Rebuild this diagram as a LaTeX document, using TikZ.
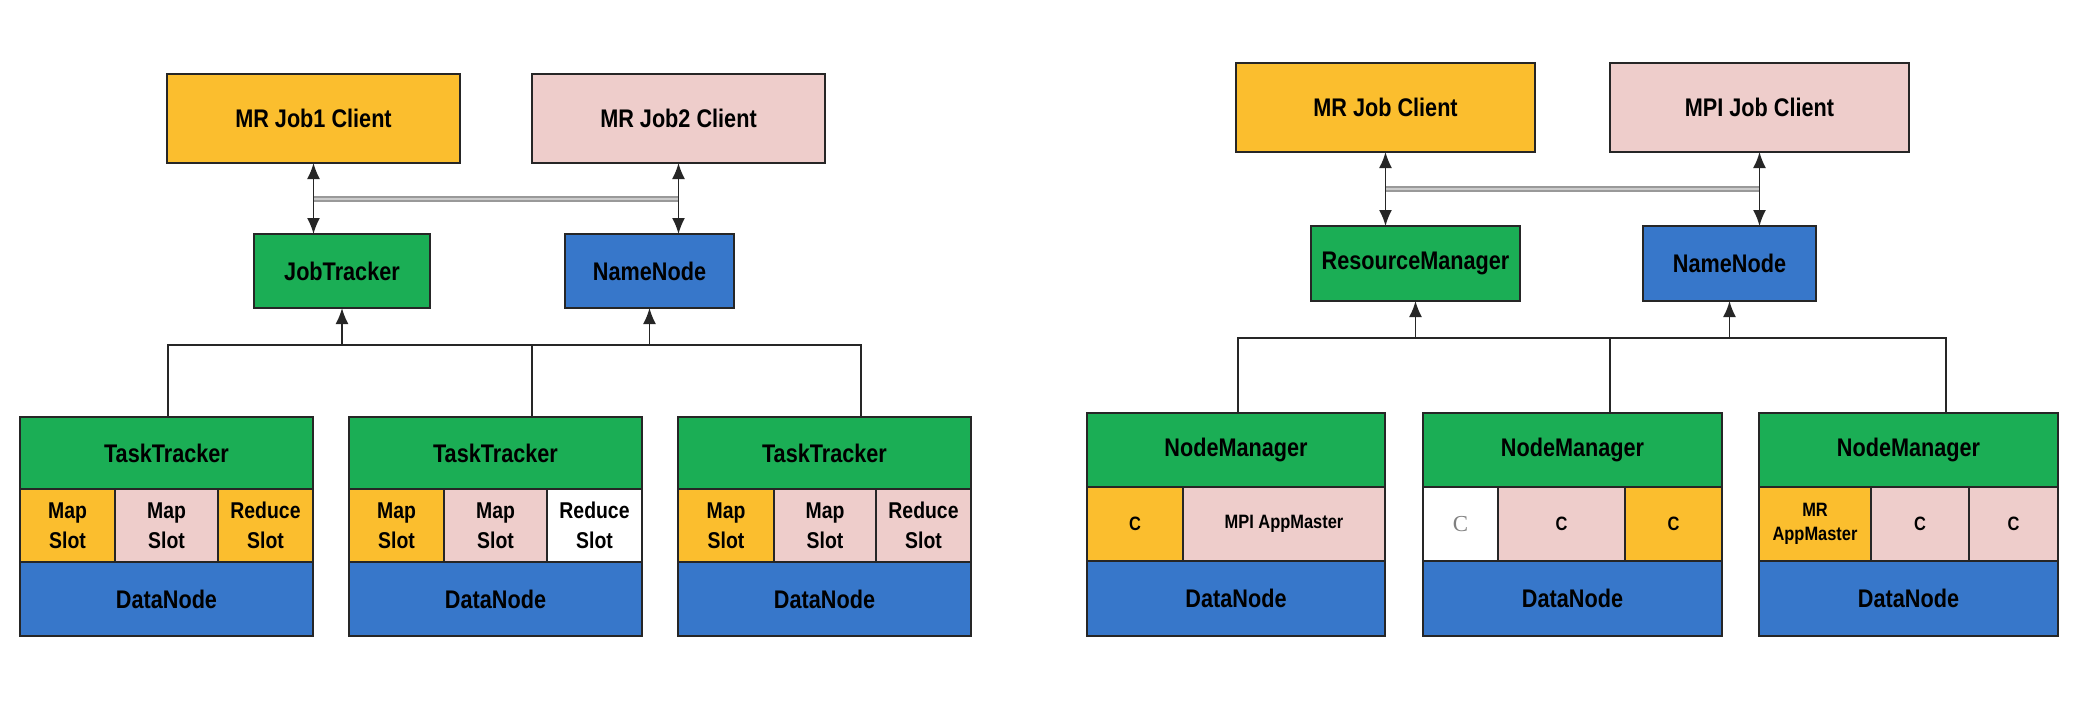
\documentclass[tikz,border=0pt]{standalone}
\usepackage{fontspec}
\setmainfont{Liberation Sans}[FakeStretch=0.85]
\newfontfamily\serifc{Liberation Serif}
\usetikzlibrary{arrows.meta}
\definecolor{cyel}{HTML}{FBBE2E}
\definecolor{cpink}{HTML}{EECDCB}
\definecolor{cgreen}{HTML}{1BAE55}
\definecolor{cblue}{HTML}{3777CA}
\definecolor{cborder}{HTML}{262626}
\tikzset{
  cell/.style={draw=cborder, line width=0.4mm, inner sep=0pt, outer sep=0pt, align=center, text=black},
  big/.style={font=\bfseries\fontsize{14.5}{17}\selectfont},
  mid/.style={font=\bfseries\fontsize{13}{17}\selectfont},
  sml/.style={font=\bfseries\fontsize{11}{13.5}\selectfont},
  conn/.style={line width=0.35mm, draw=black!85},
  biarrow/.style={conn, {Latex[length=3.2mm,width=2.6mm]}-{Latex[length=3.2mm,width=2.6mm]}},
  uparrow/.style={conn, -{Latex[length=3.2mm,width=2.6mm]}},
  dbl/.style={draw=gray!80, line width=0.4mm, double=gray!40, double distance=0.45mm},
}
\newcommand\cell[7]{\node[cell, #6, minimum width={(#4-#2)*0.2mm}, minimum height={(#5-#3)*0.2mm}] (#1) at ({(#2+#4)/2},{(#3+#5)/2}) {#7};}
\begin{document}
\begin{tikzpicture}[x=0.2mm, y=-0.2mm]
\useasboundingbox (0,0) rectangle (2096,712);
% ---------------- Left diagram ----------------
\cell{lc1}{167}{74}{460}{163}{fill=cyel, big}{MR Job1 Client}
\cell{lc2}{532}{74}{825}{163}{fill=cpink, big}{MR Job2 Client}
\cell{ljt}{254}{234}{430}{308}{fill=cgreen, big}{JobTracker}
\cell{lnn}{565}{234}{734}{308}{fill=cblue, big}{NameNode}
% boxes
\cell{lt1}{20}{417}{313}{489}{fill=cgreen, big}{TaskTracker}
\cell{ls11}{20}{489}{115}{562}{fill=cyel, mid}{Map\\Slot}
\cell{ls12}{115}{489}{218}{562}{fill=cpink, mid}{Map\\Slot}
\cell{ls13}{218}{489}{313}{562}{fill=cyel, mid}{Reduce\\Slot}
\cell{ld1}{20}{562}{313}{636}{fill=cblue, big}{DataNode}
\cell{lt2}{349}{417}{642}{489}{fill=cgreen, big}{TaskTracker}
\cell{ls21}{349}{489}{444}{562}{fill=cyel, mid}{Map\\Slot}
\cell{ls22}{444}{489}{547}{562}{fill=cpink, mid}{Map\\Slot}
\cell{ls23}{547}{489}{642}{562}{fill=white, mid}{Reduce\\Slot}
\cell{ld2}{349}{562}{642}{636}{fill=cblue, big}{DataNode}
\cell{lt3}{678}{417}{971}{489}{fill=cgreen, big}{TaskTracker}
\cell{ls31}{678}{489}{774}{562}{fill=cyel, mid}{Map\\Slot}
\cell{ls32}{774}{489}{876}{562}{fill=cpink, mid}{Map\\Slot}
\cell{ls33}{876}{489}{971}{562}{fill=cpink, mid}{Reduce\\Slot}
\cell{ld3}{678}{562}{971}{636}{fill=cblue, big}{DataNode}
% connectors
\coordinate (lh) at (0,199);
\coordinate (lb1) at (168,345);
\coordinate (lb2) at (532,345);
\coordinate (lb3) at (861,345);
\draw[dbl] (lc1.south |- lh) -- (lc2.south |- lh);
\draw[biarrow] (lc1.south) -- (lc1.south |- ljt.north);
\draw[biarrow] (lc2.south) -- (lc2.south |- lnn.north);
\draw[conn] (lb1 |- lt1.north) -- (lb1) -- (lb3) -- (lb3 |- lt3.north);
\draw[conn] (lb2) -- (lb2 |- lt2.north);
\draw[uparrow] (ljt.south |- lb1) -- (ljt.south);
\draw[uparrow] (lnn.south |- lb1) -- (lnn.south);
% ---------------- Right diagram ----------------
\cell{rc1}{1236}{63}{1535}{152}{fill=cyel, big}{MR Job Client}
\cell{rc2}{1610}{63}{1909}{152}{fill=cpink, big}{MPI Job Client}
\cell{rrm}{1311}{226}{1520}{301}{fill=cgreen, big}{ResourceManager}
\cell{rnn}{1643}{226}{1816}{301}{fill=cblue, big}{NameNode}
\cell{rt1}{1087}{413}{1385}{487}{fill=cgreen, big}{NodeManager}
\cell{rs11}{1087}{487}{1183}{561}{fill=cyel, sml}{C}
\cell{rs12}{1183}{487}{1385}{561}{fill=cpink, sml}{MPI AppMaster}
\cell{rd1}{1087}{561}{1385}{636}{fill=cblue, big}{DataNode}
\cell{rt2}{1423}{413}{1722}{487}{fill=cgreen, big}{NodeManager}
\cell{rs21}{1423}{487}{1498}{561}{fill=white, font=\serifc\fontsize{13}{15}\selectfont, text=gray}{C}
\cell{rs22}{1498}{487}{1625}{561}{fill=cpink, sml}{C}
\cell{rs23}{1625}{487}{1722}{561}{fill=cyel, sml}{C}
\cell{rd2}{1423}{561}{1722}{636}{fill=cblue, big}{DataNode}
\cell{rt3}{1759}{413}{2058}{487}{fill=cgreen, big}{NodeManager}
\cell{rs31}{1759}{487}{1871}{561}{fill=cyel, sml}{MR\\AppMaster}
\cell{rs32}{1871}{487}{1969}{561}{fill=cpink, sml}{C}
\cell{rs33}{1969}{487}{2058}{561}{fill=cpink, sml}{C}
\cell{rd3}{1759}{561}{2058}{636}{fill=cblue, big}{DataNode}
% connectors
\coordinate (rh) at (0,189);
\coordinate (rb1) at (1238,338);
\coordinate (rb2) at (1610,338);
\coordinate (rb3) at (1946,338);
\draw[dbl] (rc1.south |- rh) -- (rc2.south |- rh);
\draw[biarrow] (rc1.south) -- (rc1.south |- rrm.north);
\draw[biarrow] (rc2.south) -- (rc2.south |- rnn.north);
\draw[conn] (rb1 |- rt1.north) -- (rb1) -- (rb3) -- (rb3 |- rt3.north);
\draw[conn] (rb2) -- (rb2 |- rt2.north);
\draw[uparrow] (rrm.south |- rb1) -- (rrm.south);
\draw[uparrow] (rnn.south |- rb1) -- (rnn.south);
\end{tikzpicture}
\end{document}
